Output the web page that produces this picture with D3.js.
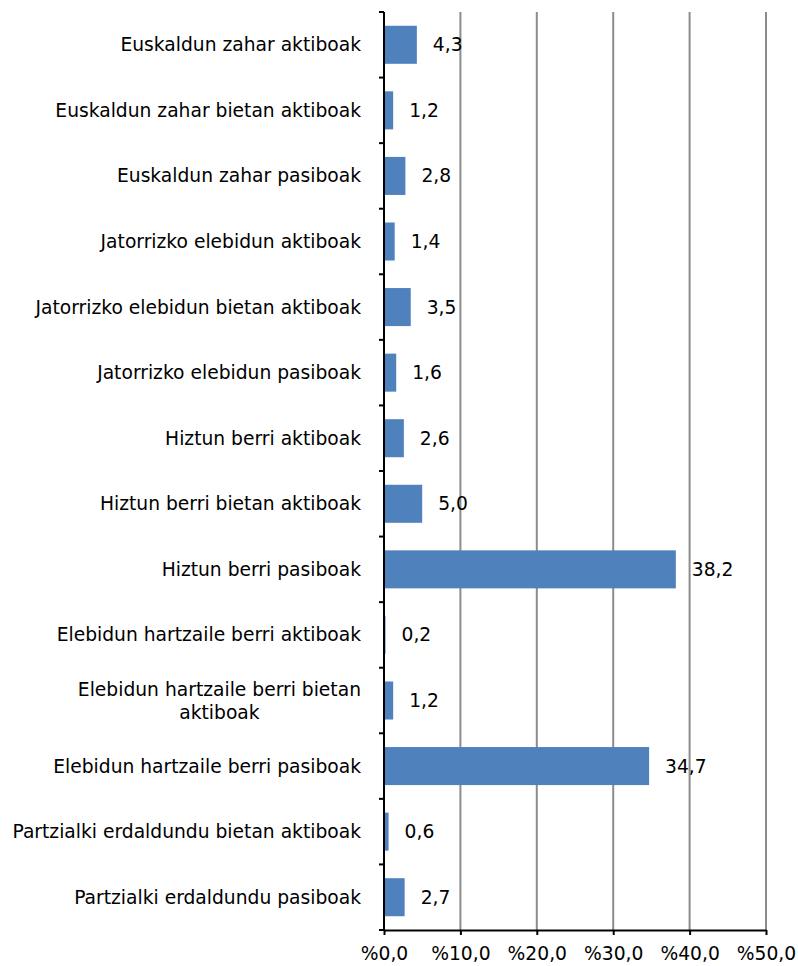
<!DOCTYPE html>
<html><head><meta charset="utf-8">
<script src="https://d3js.org/d3.v7.min.js"></script>
<style>body{margin:0;background:#fff;} text{font-family:"DejaVu Sans",Verdana,sans-serif;}</style>
</head><body>
<svg id="chart" width="798" height="966"></svg>
<script>
const categories = [
  "Euskaldun zahar aktiboak",
  "Euskaldun zahar bietan aktiboak",
  "Euskaldun zahar pasiboak",
  "Jatorrizko elebidun aktiboak",
  "Jatorrizko elebidun bietan aktiboak",
  "Jatorrizko elebidun pasiboak",
  "Hiztun berri aktiboak",
  "Hiztun berri bietan aktiboak",
  "Hiztun berri pasiboak",
  "Elebidun hartzaile berri aktiboak",
  "Elebidun hartzaile berri bietan|aktiboak",
  "Elebidun hartzaile berri pasiboak",
  "Partzialki erdaldundu bietan aktiboak",
  "Partzialki erdaldundu pasiboak"
];
const values = [4.3, 1.2, 2.8, 1.4, 3.5, 1.6, 2.6, 5.0, 38.2, 0.2, 1.2, 34.7, 0.6, 2.7];
const xTicks = [0, 10, 20, 30, 40, 50];
const xTickLabels = ["%0,0", "%10,0", "%20,0", "%30,0", "%40,0", "%50,0"];

const svg = d3.select("#chart");
const m = {left: 384, right: 32, top: 12, bottom: 36};
const W = 798, H = 966;
const x = d3.scaleLinear().domain([0, 50]).range([m.left, W - m.right]);
const y = d3.scaleBand().domain(categories).range([m.top, H - m.bottom]).paddingInner(0.42).paddingOuter(0.21);
const fs = 18.7;

// gridlines
svg.append("g").selectAll("line").data(xTicks.slice(1)).join("line")
  .attr("x1", d => x(d)).attr("x2", d => x(d))
  .attr("y1", m.top).attr("y2", H - m.bottom)
  .attr("stroke", "#8c8c8c").attr("stroke-width", 2);

// bars
svg.append("g").selectAll("rect").data(values).join("rect")
  .attr("x", x(0)).attr("y", (d, i) => y(categories[i]))
  .attr("width", d => x(d) - x(0)).attr("height", y.bandwidth())
  .attr("fill", "#4F81BD");

// value labels
svg.append("g").selectAll("text").data(values).join("text")
  .attr("x", d => x(d) + 16).attr("y", (d, i) => y(categories[i]) + y.bandwidth() / 2)
  .attr("dy", "0.35em").attr("font-size", fs).attr("fill", "#000")
  .text(d => d.toFixed(1).replace(".", ","));

// x axis
const xAxis = d3.axisBottom(x).tickValues(xTicks).tickFormat((d, i) => xTickLabels[i]).tickSize(5).tickSizeOuter(0);
const gx = svg.append("g").attr("transform", `translate(0,${H - m.bottom})`).call(xAxis);
gx.select(".domain").attr("stroke", "#000").attr("stroke-width", 2);
gx.selectAll(".tick line").attr("stroke", "#000").attr("stroke-width", 2);
gx.selectAll(".tick text").attr("font-size", fs).attr("font-family", "DejaVu Sans").attr("fill", "#000")
  .attr("y", 23).attr("dy", "0.35em");

// y axis
const yAxisG = svg.append("g");
yAxisG.append("line").attr("x1", x(0)).attr("x2", x(0)).attr("y1", m.top).attr("y2", H - m.bottom)
  .attr("stroke", "#000").attr("stroke-width", 2);
const boundaries = d3.range(categories.length + 1).map(i => y.range()[0] + i * (y.range()[1] - y.range()[0]) / categories.length);
yAxisG.selectAll("line.tk").data(boundaries).join("line").attr("class", "tk")
  .attr("x1", x(0) - 5).attr("x2", x(0)).attr("y1", d => d).attr("y2", d => d)
  .attr("stroke", "#000").attr("stroke-width", 2);

// category labels
const labelRight = x(0) - 23;
categories.forEach((c, i) => {
  const lines = c.split("|");
  const cy = y(c) + y.bandwidth() / 2;
  const t = yAxisG.append("text").attr("font-size", fs).attr("fill", "#000");
  if (lines.length === 1) {
    t.attr("x", labelRight).attr("y", cy).attr("dy", "0.35em").attr("text-anchor", "end").text(c);
  } else {
    const lh = 23;
    lines.forEach((l, j) => {
      t.append("tspan").attr("y", cy + (j - (lines.length - 1) / 2) * lh).attr("dy", "0.35em").text(l);
    });
    let maxW = 0;
    t.selectAll("tspan").each(function() { maxW = Math.max(maxW, this.getComputedTextLength()); });
    const cx = labelRight - maxW / 2;
    t.attr("text-anchor", "middle").selectAll("tspan").attr("x", cx);
  }
});
</script>
</body></html>
